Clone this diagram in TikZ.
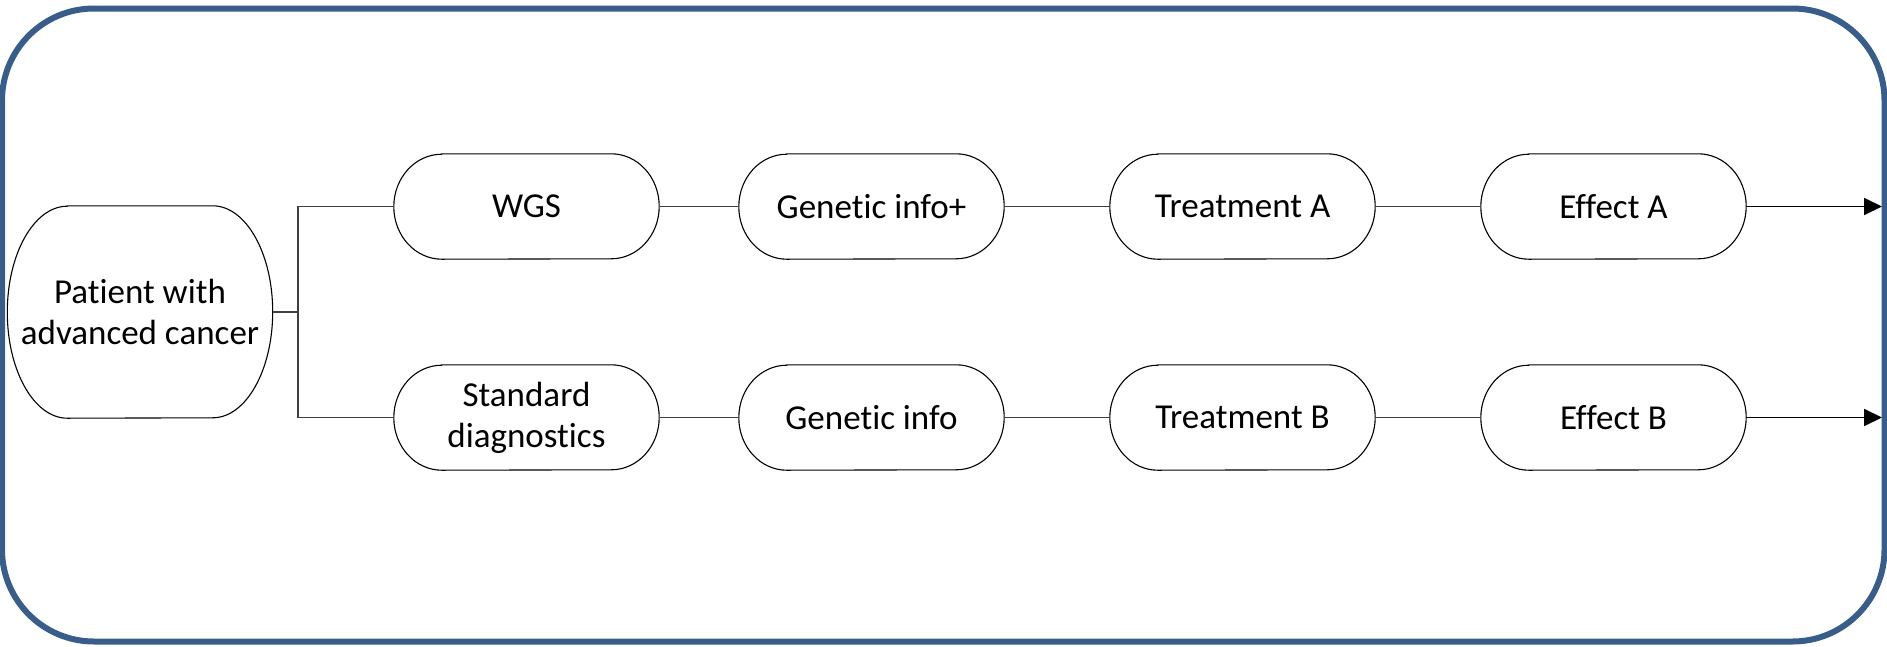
\documentclass[tikz,border=0pt]{standalone}
\usepackage{fontspec}
\setmainfont{Carlito}[Ligatures=NoCommon]
\usetikzlibrary{calc,arrows.meta}

\definecolor{frameblue}{RGB}{56,93,138}
\definecolor{connector}{RGB}{64,64,64}

% Outline of a terminator-style box: straight top and bottom, elliptical ends
\newcommand{\capsule}[3]{%
  \draw[boxline]
    ($(#1.north west)+(#2,0)$) -- ($(#1.north east)+(-#2,0)$)
    arc[start angle=90, end angle=-90, x radius=#2pt, y radius=#3pt]
    -- ($(#1.south west)+(#2,0)$)
    arc[start angle=270, end angle=90, x radius=#2pt, y radius=#3pt]
    -- cycle;}

\begin{document}
\begin{tikzpicture}[x=1pt, y=-1pt,
  stage/.style={shape=rectangle, inner sep=0pt, minimum width=265pt,
    minimum height=105pt, align=center,
    font=\fontsize{35}{41}\selectfont},
  boxline/.style={draw=black, line width=1.1pt},
  conn/.style={draw=connector, line width=1.2pt},
  outflow/.style={draw=black, line width=1.8pt,
    -{Triangle[length=18pt, width=17pt]}}]

\useasboundingbox (0,0) rectangle (1887,646);

% outer frame
\draw[frameblue, line width=6pt, rounded corners=92pt]
  (2,8.5) rectangle (1884.5,641.5);

% starting point
\node[stage, minimum height=212pt] (patient) at (140,312) {Patient with\\advanced cancer};
\capsule{patient}{60}{106}

% upper path
\node[stage] (wgs)    at (526.5,206.5)  {WGS};
\node[stage] (ginfop) at (871.5,206.5)  {Genetic info+};
\node[stage] (treatA) at (1242.5,206.5) {Treatment A};
\node[stage] (effA)   at (1613.5,206.5) {Effect A};

% lower path
\node[stage] (std)    at (526.5,417.5)  {Standard\\diagnostics};
\node[stage] (ginfo)  at (871.5,417.5)  {Genetic info};
\node[stage] (treatB) at (1242.5,417.5) {Treatment B};
\node[stage] (effB)   at (1613.5,417.5) {Effect B};

\foreach \n in {wgs,ginfop,treatA,effA,std,ginfo,treatB,effB}
  {\capsule{\n}{48}{52.5}}

% branching
\coordinate (br) at (298,312);
\draw[conn] (patient.east) -- (br);
\draw[conn] (br) |- (wgs.west);
\draw[conn] (br) |- (std.west);

% links along each path
\draw[conn] (wgs.east) -- (ginfop.west);
\draw[conn] (ginfop.east) -- (treatA.west);
\draw[conn] (treatA.east) -- (effA.west);
\draw[conn] (std.east) -- (ginfo.west);
\draw[conn] (ginfo.east) -- (treatB.west);
\draw[conn] (treatB.east) -- (effB.west);

% outcomes leaving the frame
\coordinate (endA) at (1882,206.5);
\coordinate (endB) at (1882,417.5);
\draw[outflow] (effA.east) -- (endA);
\draw[outflow] (effB.east) -- (endB);
\end{tikzpicture}
\end{document}
